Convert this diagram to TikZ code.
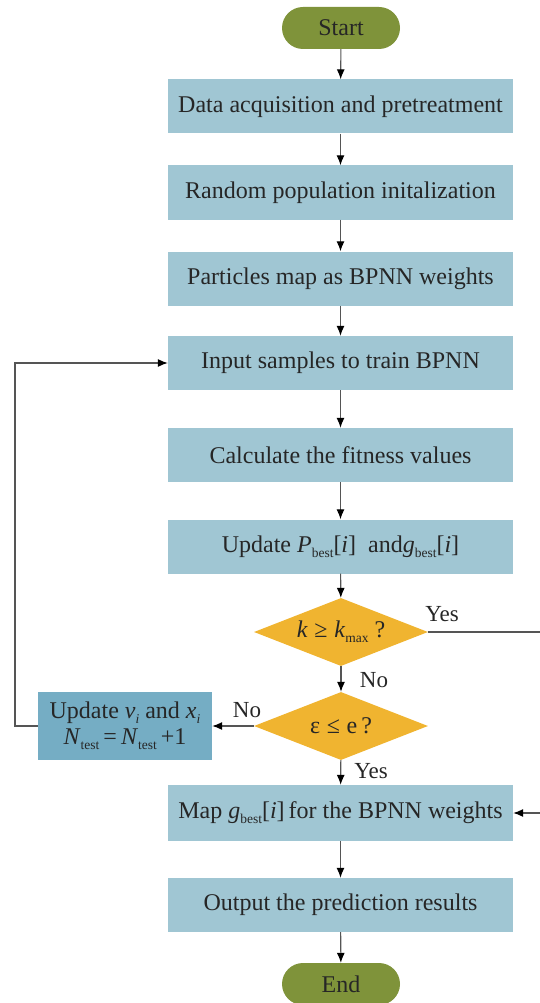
\documentclass[tikz,border=0pt]{standalone}
\usepackage{fontspec}
\setmainfont{Liberation Serif}
\usetikzlibrary{shapes.geometric,shapes.misc,arrows.meta}
\definecolor{boxblue}{HTML}{A0C6D3}
\definecolor{darkblue}{HTML}{75ADC4}
\definecolor{gold}{HTML}{F0B430}
\definecolor{olive}{HTML}{7F933A}
\definecolor{linegray}{HTML}{555555}
\newcommand{\lowsub}[1]{\raisebox{-0.45ex}{\fontsize{13.5}{13.5}\selectfont #1}}
\tikzset{
  every node/.style={font=\fontsize{24}{28}\selectfont, text=black!85},
  procbox/.style={rectangle, fill=boxblue, minimum width=345pt, minimum height=54pt, inner sep=0pt},
  capsule/.style={rounded rectangle, fill=olive, minimum width=118pt, minimum height=42pt, inner sep=0pt},
  decision/.style={diamond, fill=gold, minimum width=174pt, minimum height=68pt, inner sep=0pt},
  sidebox/.style={rectangle, fill=darkblue, minimum width=174pt, minimum height=68pt, inner sep=0pt, align=center},
  flow/.style={draw=linegray, line width=1.1pt, -{Latex[length=10pt,width=8pt,color=black]}},
  plain/.style={draw=linegray, line width=1.1pt},
  lbl/.style={font=\fontsize{23}{26}\selectfont}
}
\begin{document}
\begin{tikzpicture}[x=1pt,y=-1pt]
\useasboundingbox (0,0) rectangle (540,1003);
\node[capsule] (start) at (341,28) {Start};
\node[procbox] (b1) at (340.5,106.5) {Data acquisition and pretreatment};
\node[procbox] (b2) at (340.5,192.5) {Random population initalization};
\node[procbox] (b3) at (340.5,278.5) {Particles map as BPNN weights};
\node[procbox] (b4) at (340.5,363) {Input samples to train BPNN};
\node[procbox] (b5) at (340.5,455) {Calculate the fitness values};
\node[procbox] (b6) at (340.5,546.5) {Update \textit{P}\lowsub{best}[\textit{i}]\enspace and\textit{g}\lowsub{best}[\textit{i}]};
\node[decision, label=center:{\textit{k}\;≥\;\textit{k}\lowsub{max}\ ?}] (d1) at (341,632) {};
\node[decision, label=center:{ε\;≤\;e\,?}] (d2) at (341,726) {};
\node[sidebox] (side) at (125,726) {Update \textit{v}\lowsub{\textit{i}}\ and \textit{x}\lowsub{\textit{i}}\\[-2pt] \textit{N}\lowsub{test}\,=\,\textit{N}\lowsub{test}\,+1};
\node[procbox, minimum height=56pt] (b7) at (340.5,813) {Map \textit{g}\lowsub{best}[\textit{i}]\,for the BPNN weights};
\node[procbox] (b8) at (340.5,905) {Output the prediction results};
\node[capsule] (end) at (341,984) {End};

\coordinate (loopA) at (15,726);
\coordinate (loopB) at (15,363);
\coordinate (yesA) at (545,632);
\coordinate (yesB) at (545,813);

\draw[flow] (start) -- (b1);
\draw[flow] (b1) -- (b2);
\draw[flow] (b2) -- (b3);
\draw[flow] (b3) -- (b4);
\draw[flow] (b4) -- (b5);
\draw[flow] (b5) -- (b6);
\draw[flow] (b6) -- (d1);
\draw[flow] (d1) -- (d2);
\draw[flow] (d2) -- (side);
\draw[flow] (d2) -- (b7);
\draw[flow] (b7) -- (b8);
\draw[flow] (b8) -- (end);
\draw[flow] (side.west) -- (loopA) -- (loopB) -- (b4.west);
\draw[plain] (d1.east) -- (yesA) -- (yesB);
\draw[flow] (yesB) -- (b7.east);

\node[lbl] (yes1) at (442,614) {Yes};
\node[lbl] (no1) at (374,680) {No};
\node[lbl] (no2) at (247,710) {No};
\node[lbl] (yes2) at (371,771) {Yes};
\end{tikzpicture}
\end{document}
